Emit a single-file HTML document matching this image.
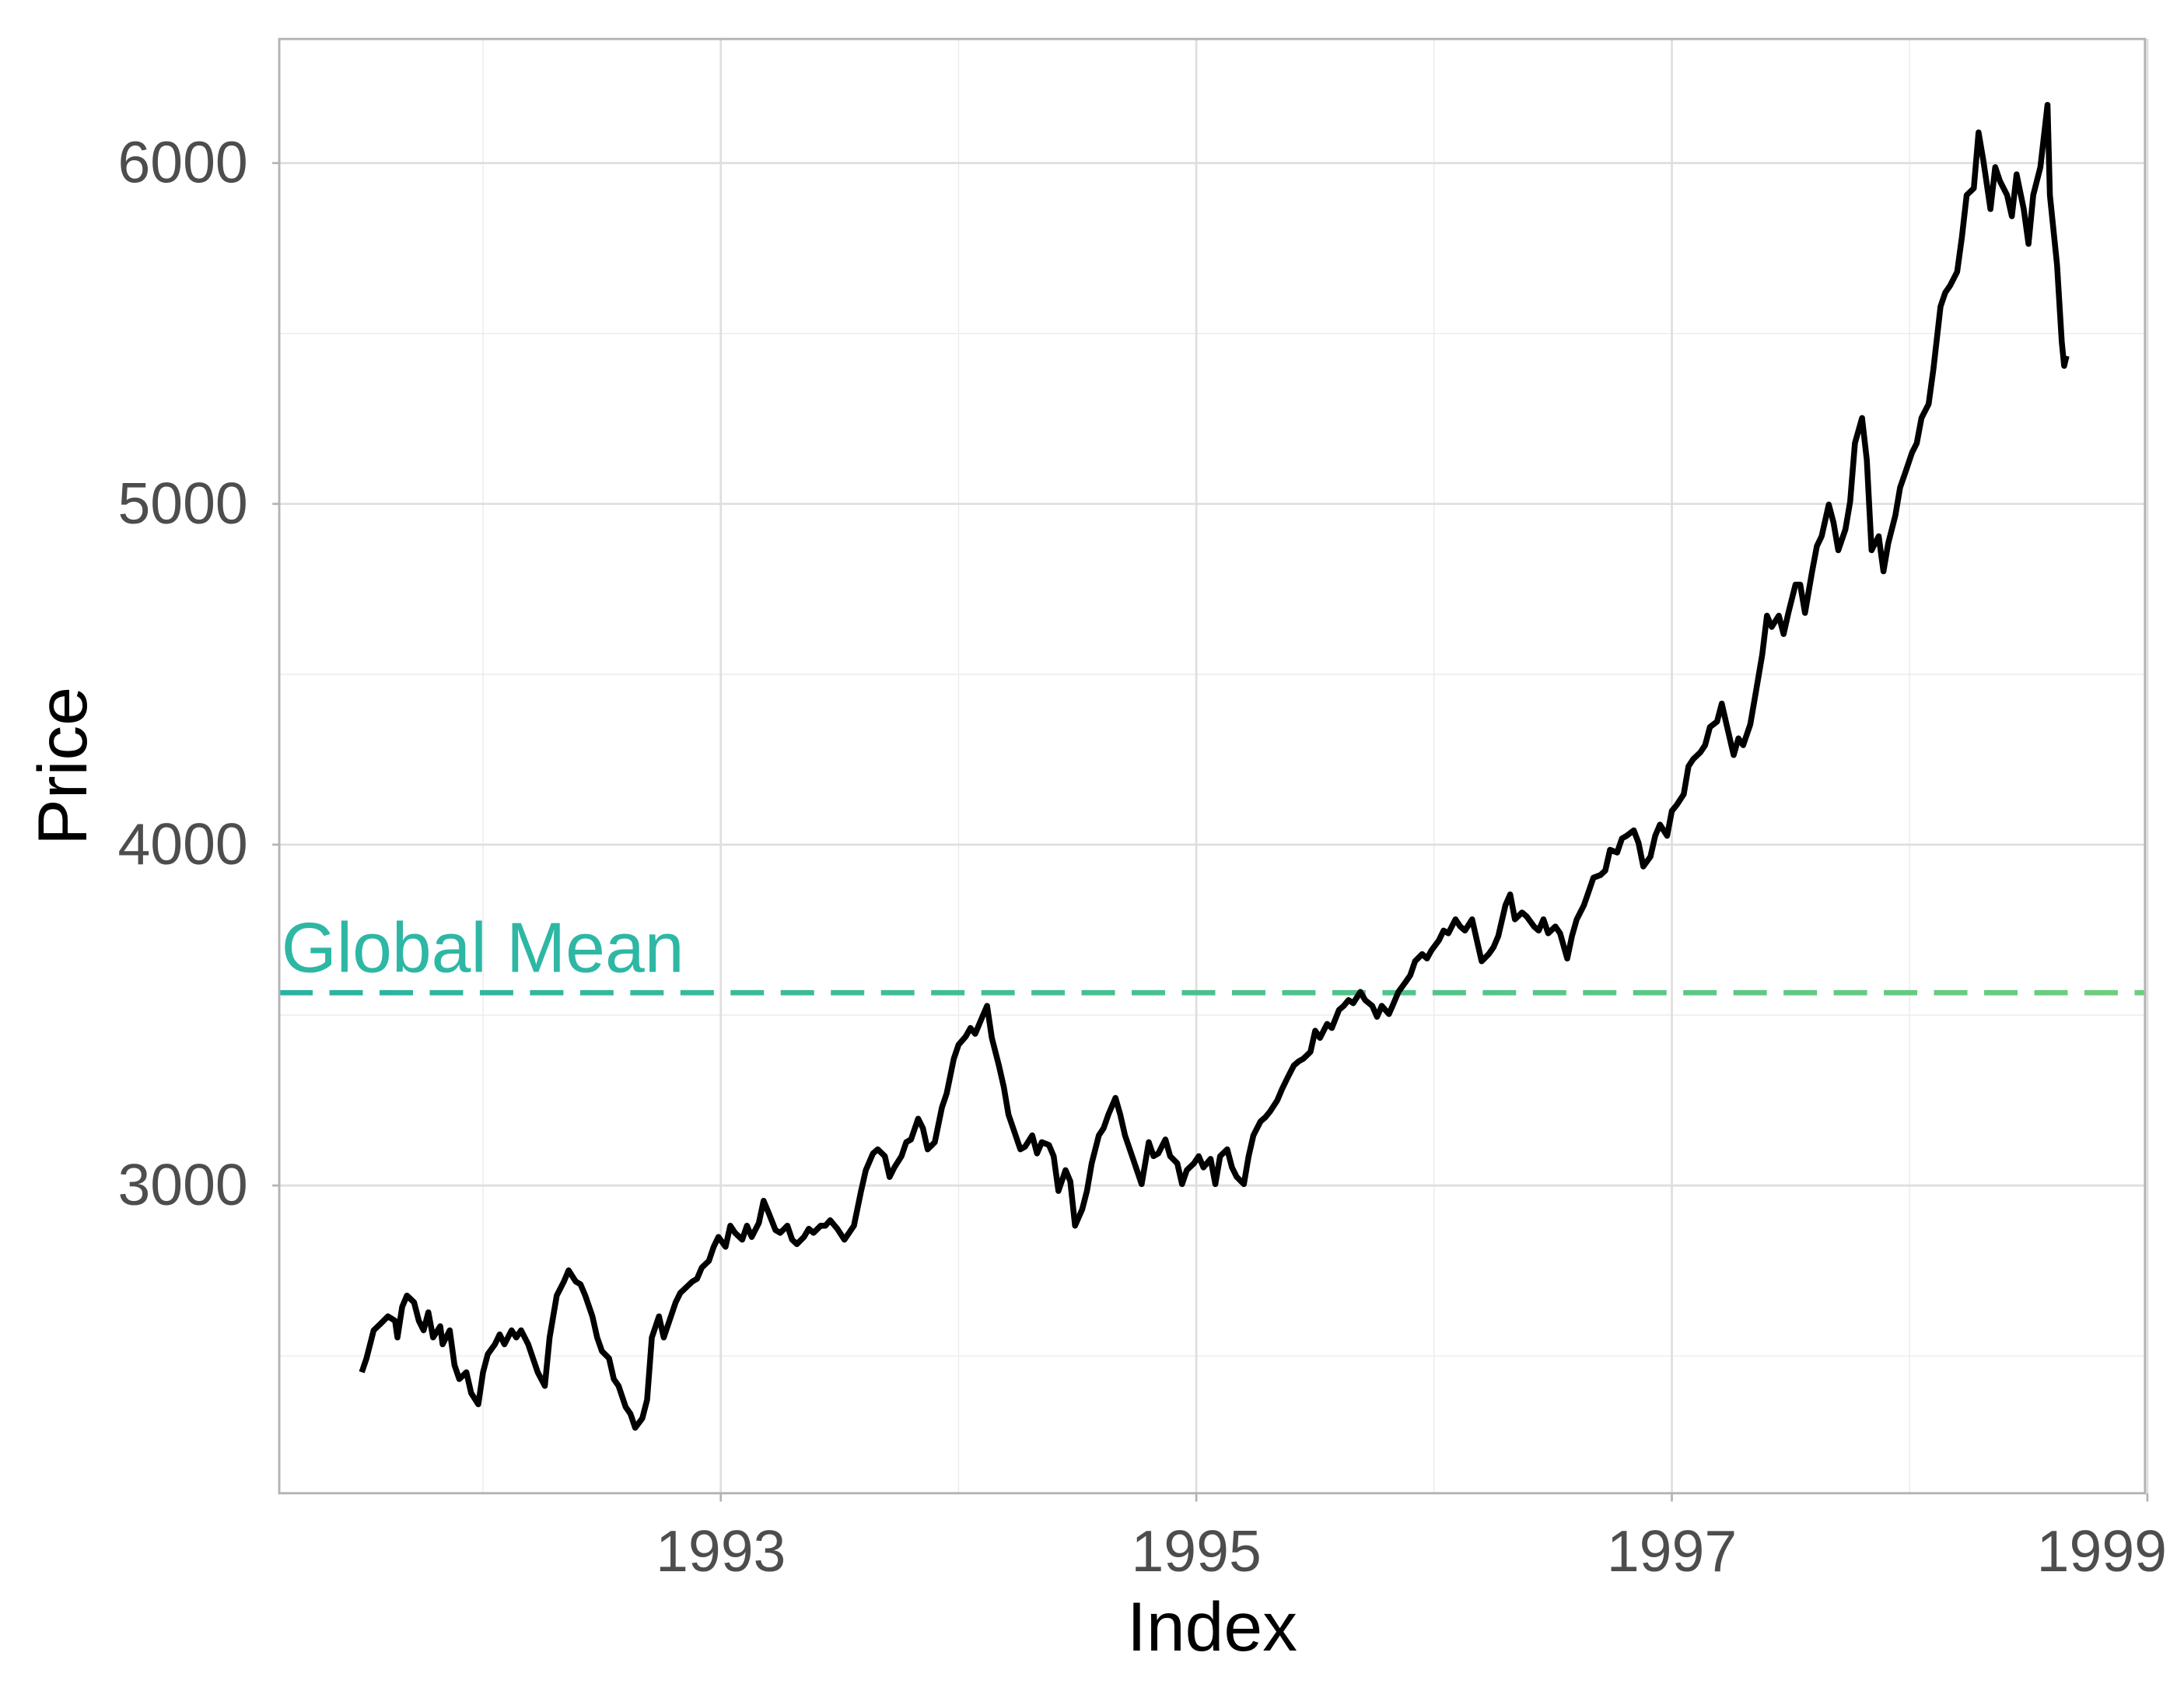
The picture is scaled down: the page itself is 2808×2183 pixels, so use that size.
<!DOCTYPE html>
<html><head><meta charset="utf-8"><style>
html,body{margin:0;padding:0;background:#fff}
svg{display:block;font-family:"Liberation Sans",Arial,sans-serif}
</style></head><body>
<svg id="chart" width="2808" height="2183" viewBox="0 0 1568 1219" xmlns="http://www.w3.org/2000/svg">
<defs><linearGradient id="meanGrad" gradientUnits="userSpaceOnUse" x1="200" x2="1540" y1="0" y2="0"><stop offset="0" stop-color="#28b3a2"/><stop offset="1" stop-color="#6dce7c"/></linearGradient></defs>
<rect width="1568" height="1219" fill="#fff"/>
<g id="grid"></g>
<g id="series"></g>
<g id="axes"></g>
</svg>
<script>
const years=[1991.49,1991.51,1991.54,1991.57,1991.60,1991.63,1991.64,1991.66,1991.68,1991.71,1991.73,1991.75,1991.77,1991.79,1991.82,1991.83,1991.86,1991.88,1991.90,1991.93,1991.95,1991.98,1992.00,1992.02,1992.05,1992.07,1992.09,1992.12,1992.14,1992.16,1992.19,1992.21,1992.23,1992.26,1992.28,1992.29,1992.31,1992.34,1992.36,1992.39,1992.41,1992.43,1992.46,1992.48,1992.50,1992.53,1992.55,1992.57,1992.60,1992.62,1992.64,1992.67,1992.69,1992.71,1992.74,1992.76,1992.78,1992.81,1992.83,1992.85,1992.88,1992.90,1992.92,1992.95,1992.97,1992.99,1993.02,1993.04,1993.06,1993.09,1993.11,1993.13,1993.16,1993.18,1993.20,1993.23,1993.25,1993.28,1993.30,1993.32,1993.35,1993.37,1993.39,1993.42,1993.44,1993.46,1993.49,1993.52,1993.56,1993.59,1993.61,1993.64,1993.66,1993.69,1993.71,1993.73,1993.76,1993.78,1993.80,1993.83,1993.85,1993.87,1993.90,1993.93,1993.95,1993.98,1994.00,1994.03,1994.05,1994.07,1994.10,1994.12,1994.14,1994.17,1994.19,1994.21,1994.24,1994.26,1994.28,1994.31,1994.33,1994.35,1994.38,1994.40,1994.42,1994.45,1994.47,1994.49,1994.52,1994.54,1994.56,1994.59,1994.61,1994.63,1994.66,1994.68,1994.70,1994.73,1994.75,1994.77,1994.80,1994.82,1994.84,1994.87,1994.89,1994.92,1994.94,1994.96,1994.99,1995.01,1995.03,1995.06,1995.08,1995.10,1995.13,1995.15,1995.17,1995.20,1995.22,1995.24,1995.27,1995.29,1995.31,1995.34,1995.36,1995.38,1995.41,1995.43,1995.45,1995.48,1995.50,1995.52,1995.55,1995.57,1995.60,1995.62,1995.64,1995.66,1995.69,1995.71,1995.74,1995.76,1995.78,1995.81,1995.83,1995.85,1995.88,1995.90,1995.92,1995.95,1995.97,1995.99,1996.02,1996.04,1996.06,1996.09,1996.11,1996.13,1996.16,1996.18,1996.20,1996.23,1996.25,1996.27,1996.30,1996.32,1996.34,1996.37,1996.39,1996.42,1996.44,1996.46,1996.48,1996.51,1996.53,1996.56,1996.58,1996.60,1996.63,1996.65,1996.67,1996.70,1996.72,1996.74,1996.77,1996.79,1996.81,1996.84,1996.86,1996.88,1996.91,1996.93,1996.95,1996.98,1997.00,1997.02,1997.05,1997.07,1997.09,1997.12,1997.14,1997.16,1997.19,1997.21,1997.23,1997.26,1997.28,1997.30,1997.33,1997.35,1997.38,1997.40,1997.42,1997.45,1997.47,1997.49,1997.52,1997.54,1997.56,1997.59,1997.61,1997.63,1997.66,1997.68,1997.70,1997.73,1997.75,1997.77,1997.80,1997.82,1997.84,1997.87,1997.89,1997.91,1997.94,1997.96,1997.98,1998.01,1998.03,1998.05,1998.08,1998.10,1998.13,1998.15,1998.17,1998.20,1998.22,1998.24,1998.27,1998.29,1998.31,1998.34,1998.36,1998.38,1998.41,1998.43,1998.45,1998.48,1998.50,1998.52,1998.55,1998.57,1998.58,1998.59,1998.62,1998.64,1998.65,1998.66];
const prices=[2452,2493,2575,2595,2616,2603,2554,2644,2677,2657,2603,2575,2628,2554,2587,2534,2575,2473,2432,2452,2391,2358,2452,2505,2534,2563,2534,2575,2554,2575,2534,2493,2452,2412,2554,2595,2677,2718,2751,2718,2710,2677,2616,2554,2514,2493,2432,2412,2350,2330,2289,2317,2371,2554,2616,2554,2595,2657,2685,2698,2718,2726,2759,2779,2820,2849,2820,2882,2861,2841,2882,2849,2890,2955,2922,2869,2861,2882,2841,2828,2849,2873,2861,2882,2882,2898,2873,2841,2882,2984,3045,3094,3106,3086,3025,3053,3086,3127,3135,3196,3168,3106,3127,3229,3270,3372,3413,3437,3462,3445,3495,3527,3433,3351,3290,3208,3147,3106,3114,3147,3094,3127,3119,3086,2984,3045,3012,2882,2930,2984,3065,3147,3168,3208,3257,3208,3147,3086,3045,3004,3127,3086,3094,3135,3086,3065,3004,3045,3065,3086,3053,3078,3004,3086,3106,3053,3025,3004,3086,3147,3188,3200,3217,3249,3282,3311,3352,3364,3372,3392,3454,3433,3474,3462,3515,3527,3544,3535,3568,3544,3527,3495,3527,3503,3535,3568,3597,3617,3658,3679,3666,3691,3719,3748,3740,3781,3760,3748,3781,3719,3658,3679,3699,3732,3822,3854,3781,3801,3789,3760,3748,3781,3740,3760,3740,3666,3732,3781,3822,3862,3903,3911,3924,3985,3977,4018,4026,4042,4005,3936,3965,4026,4059,4026,4099,4116,4148,4230,4251,4271,4292,4345,4361,4414,4353,4263,4312,4292,4353,4434,4557,4672,4639,4672,4618,4680,4763,4763,4680,4802,4876,4905,4998,4945,4864,4925,5007,5178,5252,5129,4864,4905,4802,4884,4966,5048,5088,5150,5178,5252,5293,5395,5579,5620,5640,5681,5783,5906,5926,6090,6008,5865,5988,5947,5906,5844,5967,5865,5763,5906,5988,6110,6171,5906,5702,5475,5405,5434];
const globalMean=[3565.6];
const yMajorTicks=[3000,4000,5000,6000];
const yMinorTicks=[2500,3500,4500,5500];
const xMajorTicks=[1993,1995,1997,1999];
const xMinorTicks=[1992,1994,1996,1998];

const NS='http://www.w3.org/2000/svg';
const P={l:200.5,r:1540,t:28,b:1072};
const X0=1991.143,X1=1998.99,Y0=2097,Y1=6364;
const sx=v=>P.l+(v-X0)/(X1-X0)*(P.r-P.l);
const sy=v=>P.b-(v-Y0)/(Y1-Y0)*(P.b-P.t);
function mk(tag,attrs,parent){const e=document.createElementNS(NS,tag);for(const k in attrs)e.setAttribute(k,attrs[k]);parent.appendChild(e);return e;}
const grid=document.getElementById('grid'),series=document.getElementById('series'),axes=document.getElementById('axes');

yMinorTicks.forEach(v=>{const l=mk('line',{x1:P.l,x2:P.r,y1:sy(v),y2:sy(v),stroke:'#ebebeb','stroke-width':0.8},grid);

});
xMinorTicks.forEach(v=>{const l=mk('line',{x1:sx(v),x2:sx(v),y1:P.t,y2:P.b,stroke:'#ebebeb','stroke-width':0.8},grid);

});
yMajorTicks.forEach(v=>{const l=mk('line',{x1:P.l,x2:P.r,y1:sy(v),y2:sy(v),stroke:'#dedede','stroke-width':1.5},grid);


const t=mk('text',{x:178,y:sy(v)+14,'text-anchor':'end','font-size':42,fill:'#4d4d4d'},axes);t.textContent=v;


const k=mk('line',{x1:P.l-5,x2:P.l,y1:sy(v),y2:sy(v),stroke:'#b3b3b3','stroke-width':1.5},axes);

});
xMajorTicks.forEach(v=>{const l=mk('line',{x1:sx(v),x2:sx(v),y1:P.t,y2:P.b,stroke:'#dedede','stroke-width':1.5},grid);


const cx=Math.min(sx(v),1509);
const t=mk('text',{x:cx,y:1128,'text-anchor':'middle','font-size':42,fill:'#4d4d4d'},axes);t.textContent=v;


const k=mk('line',{x1:sx(v),x2:sx(v),y1:P.b,y2:P.b+6,stroke:'#b3b3b3','stroke-width':1.5},axes);

});

const ml=mk('line',{x1:P.l,x2:P.r,y1:sy(globalMean[0]),y2:sy(globalMean[0]),stroke:'url(#meanGrad)','stroke-width':3.8,'stroke-dasharray':'24 12'},series);


const mt=mk('text',{x:202,y:sy(globalMean[0])-15,'font-size':51,fill:'#2db7a4'},series);mt.textContent='Global Mean';



const d=years.map((y,i)=>(i?'L':'M')+sx(y).toFixed(2)+','+sy(prices[i]).toFixed(2)).join('');
const pl=mk('path',{d:d,fill:'none',stroke:'#000','stroke-width':4.2,'stroke-linejoin':'round'},series);



const br=mk('rect',{x:P.l,y:P.t,width:P.r-P.l,height:P.b-P.t,fill:'none',stroke:'#b3b3b3','stroke-width':1.6},axes);


const xt=mk('text',{x:(P.l+P.r)/2,y:1185,'text-anchor':'middle','font-size':50,fill:'#000'},axes);xt.textContent='Index';


const yt=mk('text',{x:0,y:0,'text-anchor':'middle','font-size':50,fill:'#000',transform:'translate(62,'+((P.t+P.b)/2)+') rotate(-90)'},axes);yt.textContent='Price';


</script>
</body></html>
